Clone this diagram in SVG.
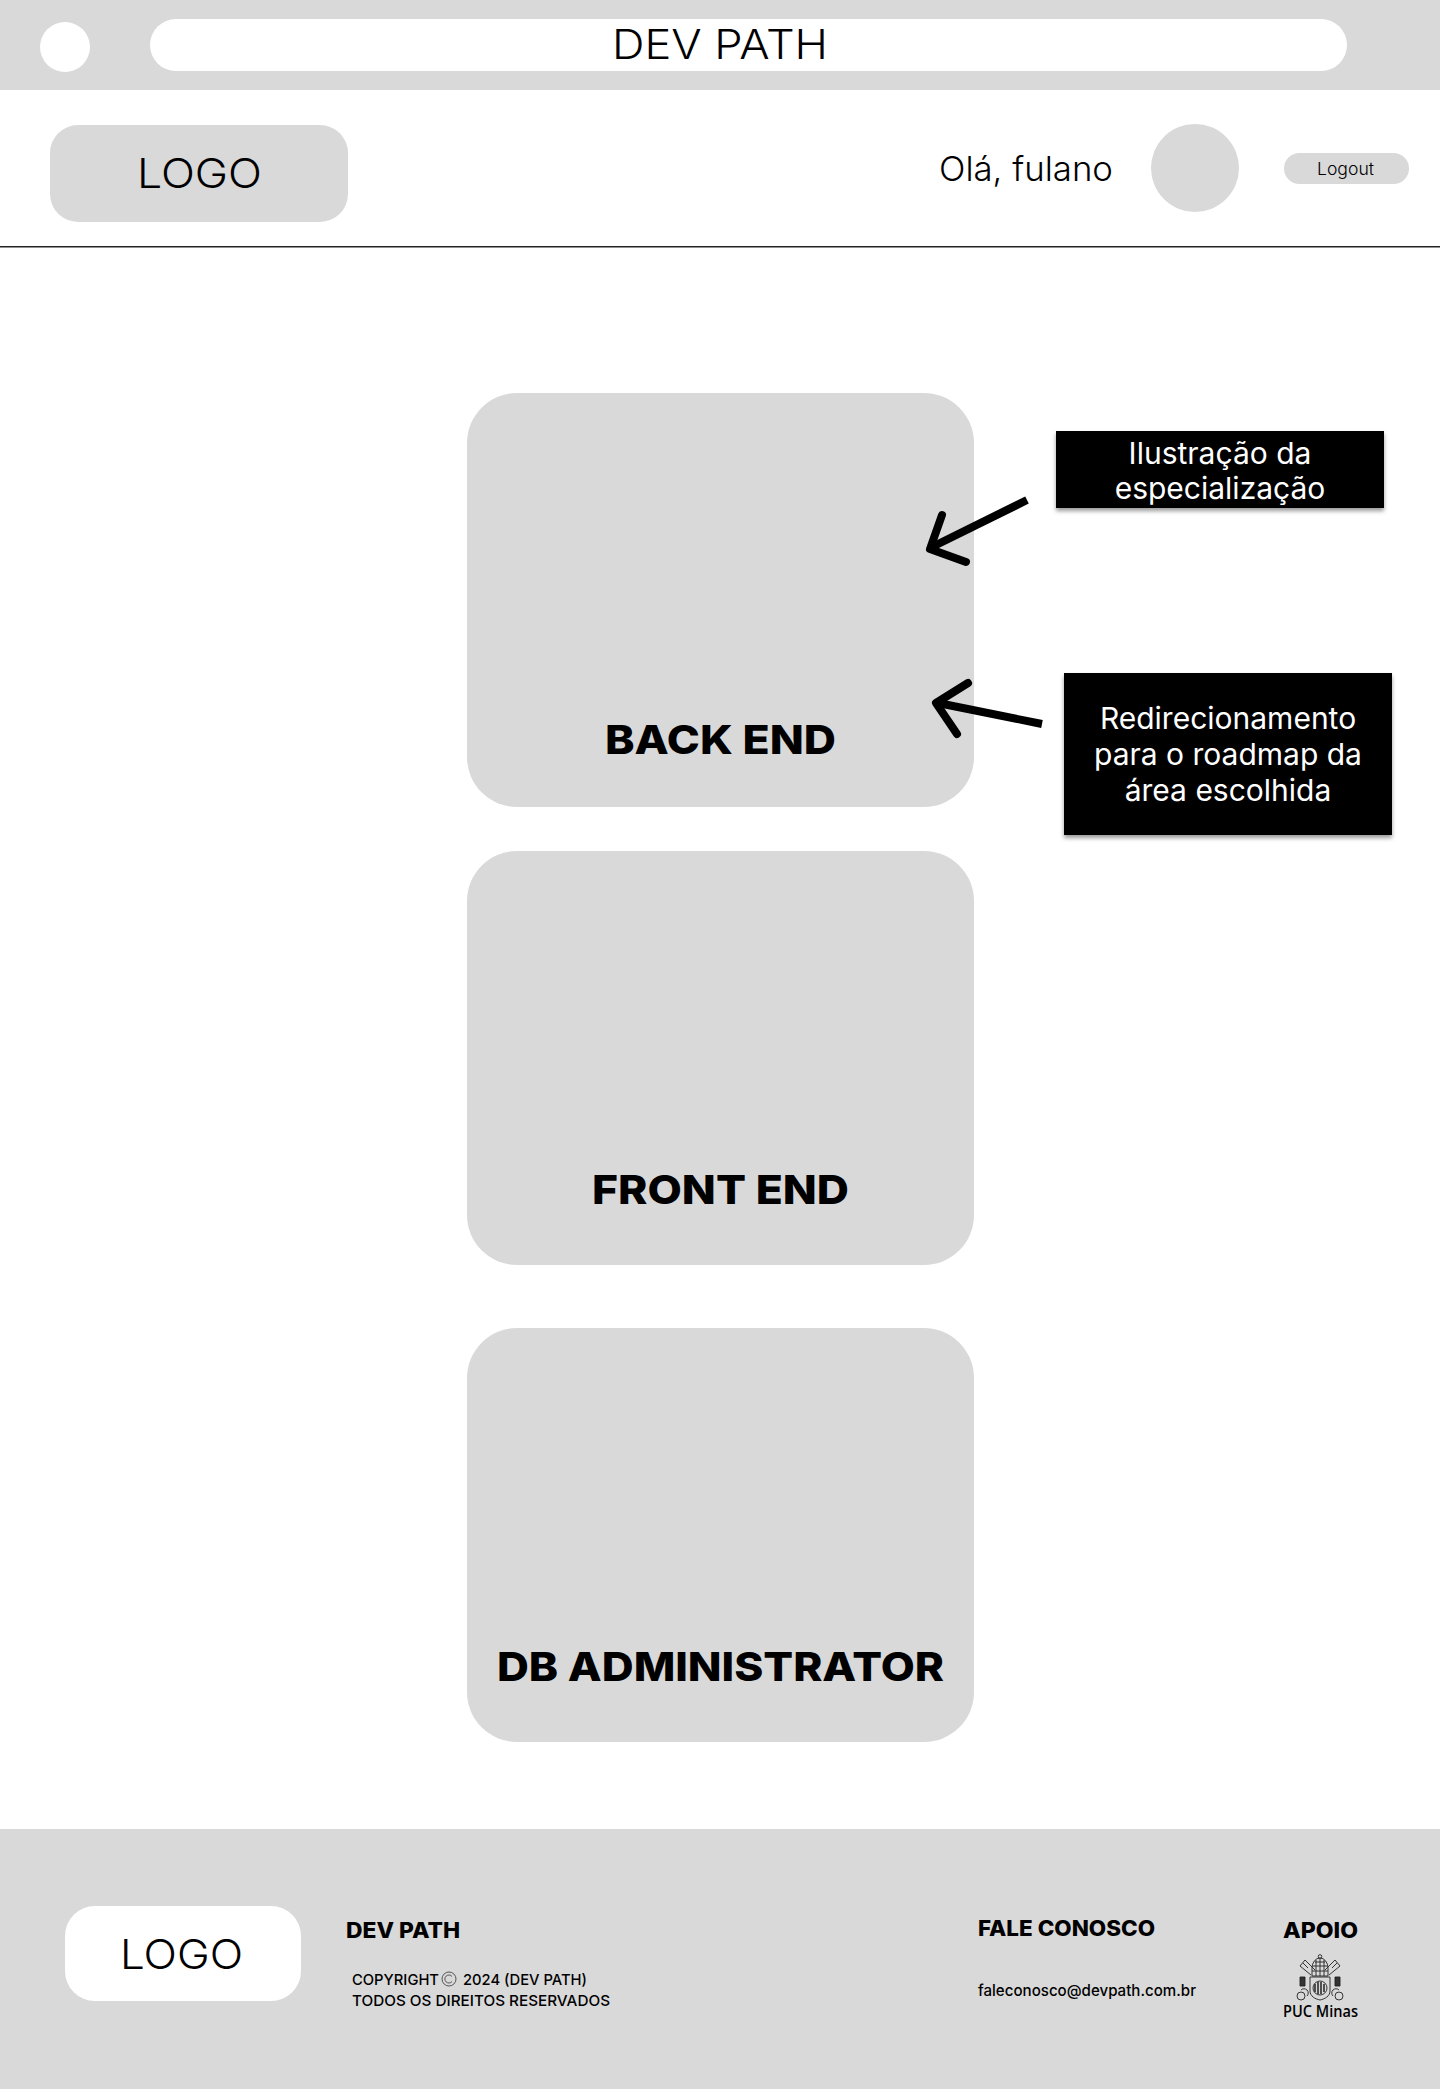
<svg xmlns="http://www.w3.org/2000/svg" width="1440" height="2089" viewBox="0 0 1440 2089">
<style>
text{font-family:"Inter","Noto Sans",sans-serif;fill:#000}
.l{font-weight:300;font-size:41px}
.b{font-weight:800;font-size:40px}
.f{font-weight:800;font-size:21px}
.s{font-weight:500;font-size:15px}
.c{font-weight:400;font-size:30px;fill:#fff;text-anchor:middle}
.g{fill:#d9d9d9}
.w{fill:#fff}
.k{fill:#000;filter:url(#sh)}
.a{fill:none;stroke:#000;stroke-width:8}
.cr{fill:none;stroke:#222;stroke-width:.9}
</style>
<defs><filter id="sh" x="-5%" y="-10%" width="110%" height="125%"><feDropShadow dx="0" dy="3" stdDeviation="2" flood-color="#000" flood-opacity=".4"/></filter></defs>
<rect width="1440" height="2089" class="w"/>
<g id="topbar">
<rect width="1440" height="90" class="g"/>
<circle cx="65" cy="47" r="25" class="w"/>
<rect x="150" y="19" width="1197" height="52" rx="26" class="w"/>
<text class="l" x="612" y="59" textLength="216" lengthAdjust="spacingAndGlyphs">DEV PATH</text>
</g>
<g id="header">
<rect x="50" y="125" width="298" height="97" rx="28" class="g"/>
<text class="l" x="137" y="188" textLength="125" lengthAdjust="spacingAndGlyphs">LOGO</text>
<text class="l" x="939" y="180.500" style="font-size:34px" textLength="174" lengthAdjust="spacingAndGlyphs">Olá, fulano</text>
<circle cx="1195" cy="168" r="44" class="g"/>
<rect x="1284" y="153" width="125" height="31" rx="15.5" class="g"/>
<text x="1317" y="175" font-size="17" font-weight="300" fill="#222" textLength="57" lengthAdjust="spacingAndGlyphs">Logout</text>
<rect y="246" width="1440" height="1.5" fill="#222"/>
</g>
<g id="card-backend">
<rect x="467" y="393" width="507" height="414" rx="50" class="g"/>
<text class="b" x="605" y="754" textLength="231" lengthAdjust="spacingAndGlyphs">BACK END</text>
</g>
<g id="card-frontend">
<rect x="467" y="851" width="507" height="414" rx="50" class="g"/>
<text class="b" x="592" y="1203.500" textLength="257" lengthAdjust="spacingAndGlyphs">FRONT END</text>
</g>
<g id="card-db">
<rect x="467" y="1328" width="507" height="414" rx="50" class="g"/>
<text class="b" x="497" y="1680.500" textLength="447" lengthAdjust="spacingAndGlyphs">DB ADMINISTRATOR</text>
</g>
<g id="note-ilustracao">
<rect x="1056" y="431" width="328" height="77" class="k"/>
<text class="c" x="1220" y="464">Ilustração da</text>
<text class="c" x="1220" y="499">especialização</text>
</g>
<g id="note-redirecionamento">
<rect x="1064" y="673" width="328" height="162" class="k"/>
<text class="c" x="1228" y="729">Redirecionamento</text>
<text class="c" x="1228" y="765">para o roadmap da</text>
<text class="c" x="1228" y="801">área escolhida</text>
</g>
<g id="connectors">
<path class="a" d="M1027 500L932 547"/>
<path class="a" stroke-linecap="round" stroke-linejoin="round" d="M942 515L930 549L966 562"/>
<path class="a" d="M1042 724L938 703"/>
<path class="a" stroke-linecap="round" stroke-linejoin="round" d="M968 683L936 703L957 734"/>
</g>
<g id="footer">
<rect y="1829" width="1440" height="260" class="g"/>
<rect x="65" y="1906" width="236" height="95" rx="30" class="w"/>
<text class="l" x="120" y="1969" textLength="123" lengthAdjust="spacingAndGlyphs">LOGO</text>
<text class="f" x="346" y="1937.500" textLength="114" lengthAdjust="spacingAndGlyphs">DEV PATH</text>
<text class="s" x="352" y="1985" textLength="87" lengthAdjust="spacingAndGlyphs">COPYRIGHT</text>
<g><circle cx="449" cy="1979" r="7" fill="none" stroke="#333" stroke-width=".8"/><path d="M452 1976.500a4 4 0 1 0 0 5" fill="none" stroke="#333" stroke-width=".8"/></g>
<text class="s" x="463" y="1985" textLength="124" lengthAdjust="spacingAndGlyphs">2024 (DEV PATH)</text>
<text class="s" x="352" y="2005.500" textLength="258" lengthAdjust="spacingAndGlyphs">TODOS OS DIREITOS RESERVADOS</text>
<text class="f" x="978" y="1935.500" textLength="177" lengthAdjust="spacingAndGlyphs">FALE CONOSCO</text>
<text x="978" y="1995.500" font-size="15.500" font-weight="500" textLength="218" lengthAdjust="spacingAndGlyphs">faleconosco@devpath.com.br</text>
<text class="f" x="1283" y="1937.500" textLength="75" lengthAdjust="spacingAndGlyphs">APOIO</text>
<g id="puc-crest" class="cr">
<circle cx="1320" cy="1956.500" r="1.800"/>
<path d="M1312 1976v-8a8 10 0 0 1 16 0v8zM1312 1971h16M1313 1966h14M1315 1962h10M1316 1960v16M1320 1959v17M1324 1960v16"/>
<path d="M1310 1977h20v14c0 5-5 8-10 9-5-1-10-4-10-9z"/>
<circle cx="1320" cy="1988" r="7"/>
<path d="M1315 1984v8M1318 1982v12M1321 1982v12M1324 1984v8" stroke-width="1.500"/>
<path d="M1311 1975L1300 1966l5-6 10 10M1329 1975l11-9-5-6-10 10M1303 1963l5 5M1337 1963l-5 5"/>
<path d="M1300 1977h5v9h-5zM1335 1977h5v9h-5z" fill="#333"/>
<path d="M1297 1996a4 4 0 1 1 8 0a4 4 0 1 1 -8 0M1301 1990a4 4 0 1 1 6 6M1335 1996a4 4 0 1 1 8 0a4 4 0 1 1 -8 0M1333 1996a4 4 0 1 1 6 -6"/>
</g>
<text x="1283" y="2017" style="font-family:'Open Sans','Noto Sans',sans-serif" font-size="17" font-weight="600" fill="#222" textLength="75" lengthAdjust="spacingAndGlyphs">PUC Minas</text>
</g>
</svg>
